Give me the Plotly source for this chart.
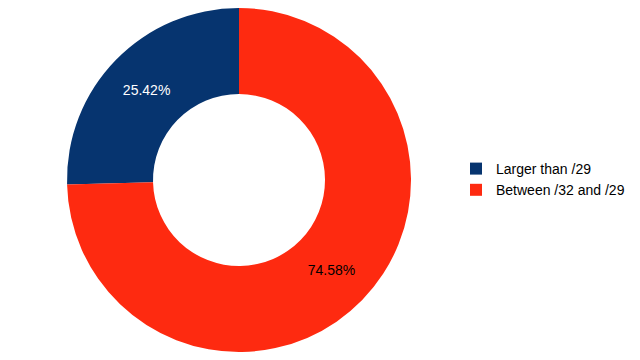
import plotly.graph_objects as go

labels = ["Larger than /29", "Between /32 and /29"]
values = [25.42, 74.58]
colors = ["#06346f", "#fe2a10"]
text_colors = ["#ffffff", "#000000"]

# the page body has an 8px margin, so figure coordinates are offset by 8px
cx, cy, r = 231, 172, 172

fig = go.Figure(go.Pie(
    labels=labels,
    values=values,
    hole=0.5,
    sort=False,
    direction="clockwise",
    rotation=-360 * values[0] / sum(values),
    marker=dict(colors=colors, line=dict(width=0)),
    textinfo="percent",
    texttemplate="%{percent:.2%}",
    textposition="inside",
    insidetextorientation="horizontal",
    textfont=dict(family="Liberation Sans, Arial, sans-serif", size=14, color=text_colors),
    domain=dict(x=[(cx - r) / 640, (cx + r) / 640],
                y=[1 - (cy + r) / 360, 1 - (cy - r) / 360]),
    hoverinfo="label+percent",
))

fig.update_layout(
    width=640, height=360,
    margin=dict(l=0, r=0, t=0, b=0),
    paper_bgcolor="white",
    plot_bgcolor="white",
    font=dict(family="Liberation Sans, Arial, sans-serif", size=14, color="#000000"),
    legend=dict(x=448 / 640, y=1 - 171.5 / 360, xanchor="left", yanchor="middle",
                font=dict(size=14), traceorder="normal"),
    showlegend=True,
)

fig.write_html("out.html")
